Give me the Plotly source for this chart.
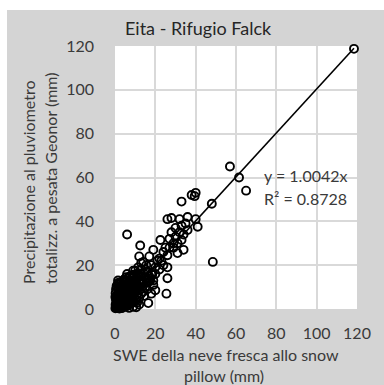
import plotly.graph_objects as go

# SWE della neve fresca allo snow pillow (mm)
swe = [
    118.5, 57, 61.5, 65, 48, 38, 40, 39.5, 33, 48.5, 41, 6, 12.5, 22.5,
    26, 28, 32, 36, 40, 35, 30, 33, 29, 27, 34, 31, 26,
    19, 22, 17, 12, 14, 24, 26, 9, 16, 26, 20, 18, 25.5, 16.5, 1.5, 0.5,
    28, 30, 32, 36, 34, 25, 24, 21, 20, 18, 15, 17, 13, 20, 22, 19, 23, 29, 31, 27, 33,
    0.2, 0.5, 1, 1.5, 2, 0.3, 0.8, 1.2, 2.5, 3, 3.5, 4, 2, 1, 3, 4.5, 5, 6, 5.5, 7,
    6.5, 8, 4, 3, 2, 5, 7, 8, 9, 10, 9.5, 11, 12, 10.5, 8, 6, 4, 3, 7, 9, 11, 13, 12,
    14, 15, 13, 1, 0.5, 1.5, 2.5, 3.5, 4.5, 5.5, 6, 7.5, 8.5, 9, 10, 11, 6.5, 0.2,
    0.8, 2.5, 1.8, 4.5, 5.5, 6, 7.5, 10, 11.5, 13, 15.5,
    7, 9, 10.5, 8, 11, 12, 13, 14, 15, 16, 17, 18, 12, 9.5, 16, 19, 14.5, 17.5,
    0.4, 1.1, 1.7, 2.3, 2.9, 3.6, 4.2, 4.8, 5.3, 5.9, 6.4, 7.2, 7.8, 8.4, 9.1, 9.7,
    0.6, 1.4, 2.1, 2.8, 3.3, 3.9, 4.6, 5.1, 5.8, 6.3, 6.9, 7.6, 8.2, 8.8, 10.3, 11.2,
    0.3, 0.9, 1.6, 2.2, 3.1, 3.8, 4.4, 5.2, 6.1, 6.8, 7.4, 8.6, 9.3, 10.8, 12.4, 13.6,
    1.3, 2.6, 3.4, 4.9, 5.7, 6.7, 8.1, 9.8, 11.7, 12.8, 14.2, 15.8, 16.8, 18.5,
]
# Precipitazione al pluviometro totalizz. a pesata Geonor (mm)
geonor = [
    118.7, 65, 60, 54, 48, 52, 53, 51.5, 49, 21.5, 37.5, 34, 29, 31.5,
    41, 41.5, 41, 42, 41, 39, 33, 31.5, 30, 28, 27, 25.5, 24.5,
    27, 23, 24, 24, 21.5, 20, 19, 17.5, 17, 14, 8.5, 7, 7, 2.7, 13, 9,
    35, 37, 35, 36, 34, 28, 26, 22, 19, 20, 18, 15, 16, 16, 18, 13, 22, 28, 30, 32, 38,
    0.3, 0.8, 0.5, 1.2, 2, 2, 3, 4, 1, 3, 2, 4, 5, 6, 6, 5.5, 3, 5, 7, 6,
    8, 7, 8, 9, 7.5, 10, 10, 9.5, 8, 10, 12, 11, 12.5, 14, 12, 11, 11, 12, 13, 15, 16, 13, 10,
    12, 14, 18, 1.5, 4.5, 7, 3.5, 0.5, 1.5, 2.5, 4, 4.5, 5.5, 7, 8, 9, 2, 5.5,
    10.5, 10, 12, 13.5, 14.5, 16, 15, 17.5, 19, 21, 20,
    0.5, 1, 0.8, 2.5, 3, 5, 7, 8, 10, 12, 14, 16, 2, 3.5, 9, 11, 6, 13,
    1.5, 0.4, 3.2, 1.8, 4.4, 2.6, 5.8, 3.4, 6.9, 4.3, 8.3, 5.1, 9.4, 6.2, 10.6, 7.4,
    4.2, 2.7, 6.1, 0.9, 7.3, 1.6, 8.9, 2.2, 9.9, 3.1, 11.4, 3.7, 12.6, 4.9, 13.3, 6.8,
    7.2, 5.6, 9.2, 0.2, 10.8, 0.7, 12.2, 1.2, 13.8, 1.9, 14.9, 2.8, 15.6, 4.1, 8.7, 10.1,
    11.3, 8.6, 0.6, 12.3, 1.3, 9.6, 3.9, 13.1, 15.4, 11.6, 16.3, 13.9, 12.4, 15.7,
]

x_ticks = [0, 20, 40, 60, 80, 100, 120]
y_ticks = [0, 20, 40, 60, 80, 100, 120]
slope = 1.0042
r2 = 0.8728

title_text = "Eita - Rifugio Falck"
x_title = ["SWE della neve fresca allo snow", "pillow (mm)"]
y_title = ["Precipitazione al pluviometro", "totalizz. a pesata Geonor (mm)"]

FONT = "Lato"
GRAY = "#d4d4d4"
TXT = "#3a3a3a"

# plot-area pixel geometry
L, R, T, B = 115, 357, 46, 309
W, H = 384, 385
def px(xp):
    return (xp - L) / (R - L)
def py(yp):
    return (B - yp) / (B - T)

fig = go.Figure()

trend_x = [0, max(swe)]
trend_y = [slope * v for v in trend_x]
fig.add_trace(go.Scatter(
    x=trend_x, y=trend_y, mode="lines",
    line=dict(color="#000000", width=1.6),
    hoverinfo="skip", showlegend=False,
))
fig.add_trace(go.Scatter(
    x=swe, y=geonor, mode="markers",
    marker=dict(symbol="circle-open", size=8, color="#000000", line=dict(width=1.9)),
    cliponaxis=False, showlegend=False,
))

annotations = [
    dict(text=title_text, x=px(198), y=py(28), xref="paper", yref="paper",
         showarrow=False, font=dict(family=FONT, size=18, color="#262626"),
         xanchor="center", yanchor="middle"),
    dict(text=x_title[0], x=px(226), y=py(354), xref="paper", yref="paper",
         showarrow=False, font=dict(family=FONT, size=16, color=TXT),
         xanchor="center", yanchor="middle"),
    dict(text=x_title[1], x=px(224), y=py(375), xref="paper", yref="paper",
         showarrow=False, font=dict(family=FONT, size=16, color=TXT),
         xanchor="center", yanchor="middle"),
    dict(text=y_title[0], x=px(28), y=py(182), xref="paper", yref="paper",
         showarrow=False, textangle=-90, font=dict(family=FONT, size=16, color=TXT),
         xanchor="center", yanchor="middle"),
    dict(text=y_title[1], x=px(50), y=py(179), xref="paper", yref="paper",
         showarrow=False, textangle=-90, font=dict(family=FONT, size=16, color=TXT),
         xanchor="center", yanchor="middle"),
    dict(text=f"y = {slope:.4f}x", x=px(262), y=py(175), xref="paper", yref="paper",
         showarrow=False, font=dict(family=FONT, size=16, color=TXT),
         xanchor="left", yanchor="middle"),
    dict(text=f"R² = {r2:.4f}", x=px(262), y=py(198), xref="paper", yref="paper",
         showarrow=False, font=dict(family=FONT, size=16, color=TXT),
         xanchor="left", yanchor="middle"),
]

shapes = [
    dict(type="rect", xref="paper", yref="paper", x0=px(-5), x1=px(W + 5),
         y0=py(10), y1=py(-5), fillcolor="#ffffff", line=dict(width=0), layer="below"),
    dict(type="rect", xref="paper", yref="paper", x0=px(-5), x1=px(7),
         y0=py(W + 5), y1=py(-5), fillcolor="#ffffff", line=dict(width=0), layer="below"),
]

axis_common = dict(
    range=[0, 120], showgrid=True, gridcolor="#d9d9d9", gridwidth=1.5,
    zeroline=False, showline=False, ticks="",
    tickfont=dict(family=FONT, size=16, color=TXT), fixedrange=True,
)
fig.update_layout(
    width=W, height=H,
    margin=dict(l=L, r=W - R, t=T, b=H - B, pad=0),
    paper_bgcolor=GRAY, plot_bgcolor="#ffffff",
    xaxis=dict(**axis_common, tickvals=x_ticks, ticktext=[str(v) for v in x_ticks],
               ticklabelstandoff=13),
    yaxis=dict(**axis_common, tickvals=y_ticks, ticktext=[str(v) for v in y_ticks],
               ticklabelstandoff=20),
    annotations=annotations,
    shapes=shapes,
    showlegend=False,
)

fig.write_html("out.html", config={"displayModeBar": False})
